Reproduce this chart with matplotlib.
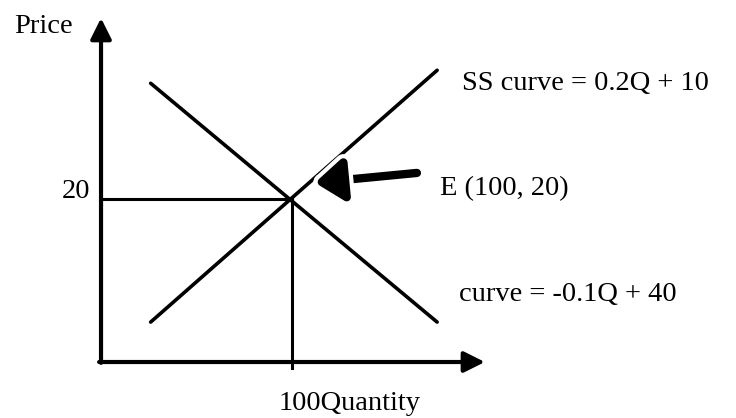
import matplotlib
matplotlib.use("Agg")
import matplotlib.pyplot as plt
import matplotlib.patheffects as pe

plt.rcParams['font.family'] = ['Liberation Serif', 'DejaVu Serif']

# schematic market diagram, quantity (Q) vs price (P)
eq_q, eq_p = 100, 20
demand_q = [26, 176]
demand_p = [34.2, 4.9]
supply_q = [26, 176]
supply_p = [4.9, 35.8]
y_axis_top = 42.2
x_axis_end = 201
arrow_tail = (165.4, 23.2)
arrow_tip = (112, 22.0)

supply_label = "SS curve = 0.2Q + 10"
demand_label = "curve = -0.1Q + 40"
eq_label = "E (100, 20)"

fig = plt.figure(figsize=(7.36, 4.18), dpi=100)
ax = fig.add_axes([0, 0, 1, 1])
ax.set_xlim(-52.9, 332.5)
ax.set_ylim(-6.87, 44.42)
ax.axis('off')

# axes with arrows
ax.annotate('', xy=(0, y_axis_top), xytext=(0, -0.1),
            arrowprops=dict(arrowstyle='-|>,head_length=0.9,head_width=0.45',
                            lw=3.0, color='black', mutation_scale=14,
                            shrinkA=0, shrinkB=0))
ax.annotate('', xy=(x_axis_end, 0), xytext=(-1.0, 0),
            arrowprops=dict(arrowstyle='-|>,head_length=0.9,head_width=0.45',
                            lw=3.0, color='black', mutation_scale=14,
                            shrinkA=0, shrinkB=0))

# demand and supply
ax.plot(demand_q, demand_p, color='black', lw=2.6, solid_capstyle='round')
ax.plot(supply_q, supply_p, color='black', lw=2.6, solid_capstyle='round')

# guide lines to equilibrium
ax.plot([0, eq_q], [eq_p, eq_p], color='black', lw=2.2)
ax.plot([eq_q, eq_q], [eq_p, -0.74], color='black', lw=2.2)

# pointer to E
ax.annotate('', xy=arrow_tip, xytext=arrow_tail,
            arrowprops=dict(arrowstyle='-|>,head_length=1.2,head_width=0.9',
                            lw=6, color='black', mutation_scale=14,
                            shrinkA=0, shrinkB=0,
                            path_effects=[pe.withStroke(linewidth=12, foreground='white')]))

fs = 20.5
ax.text(-45.5, 40.4, "Price", fontsize=fs, va='baseline', ha='left')
ax.text(-20.4, 20.1, "20", fontsize=fs, va='baseline', ha='left')
ax.text(177.5, 20.5, eq_label, fontsize=fs, va='baseline', ha='left')
ax.text(189, 33.4, supply_label, fontsize=fs, va='baseline', ha='left')
ax.text(187.4, 7.5, demand_label, fontsize=fs, va='baseline', ha='left')
ax.text(92.7, -5.9, "100Quantity", fontsize=fs, va='baseline', ha='left')

fig.savefig('out.png', dpi=100)
